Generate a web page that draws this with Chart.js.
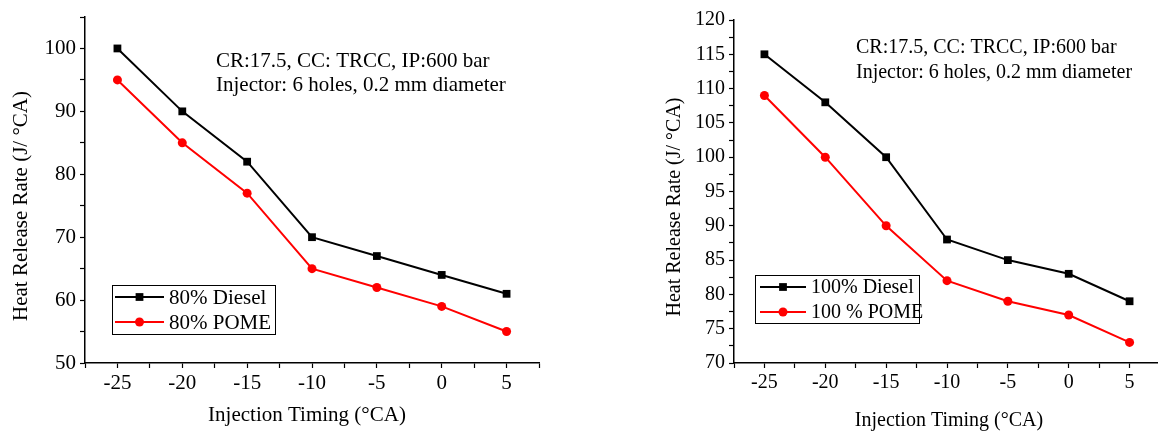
<!DOCTYPE html>
<html><head><meta charset="utf-8">
<script src="https://cdn.jsdelivr.net/npm/chart.js@4.4.1/dist/chart.umd.min.js"></script>
<style>
html,body{margin:0;padding:0;background:#fff;overflow:hidden;width:1158px;height:432px;position:relative;}
#p1{position:absolute;left:0;top:0;width:580px;height:432px;}
#p2{position:absolute;left:580px;top:0;width:600px;height:432px;}
</style></head><body>
<div id="p1"><canvas id="c1" width="580" height="432"></canvas></div>
<div id="p2"><canvas id="c2" width="600" height="432"></canvas></div>
<script>
const timings = [-25, -20, -15, -10, -5, 0, 5];
const diesel80 = [100, 90, 82, 70, 67, 64, 61];
const pome80 = [95, 85, 77, 65, 62, 59, 55];
const diesel100 = [115, 108, 100, 88, 85, 83, 79];
const pome100 = [109, 100, 90, 82, 79, 77, 73];
const labels80 = ['80% Diesel', '80% POME'];
const labels100 = ['100% Diesel', '100 % POME'];
const noteLines = ['CR:17.5, CC: TRCC, IP:600 bar', 'Injector: 6 holes, 0.2 mm diameter'];
const xTitle = 'Injection Timing (°CA)';
const yTitle = 'Heat Release Rate (J/ °CA)';
const xRange = [-27.5, 7.5];
const yRange80 = [50, 105];
const yRange100 = [70, 120];

const FONT = '"Liberation Serif", "Times New Roman", serif';

function pts(xs, ys) { return xs.map((x, i) => ({x: x, y: ys[i]})); }

function drawMarker(ctx, style, x, y, r, color) {
  ctx.save();
  ctx.fillStyle = color;
  ctx.beginPath();
  if (style === 'rect') {
    const s = r * Math.SQRT1_2;
    ctx.rect(x - s, y - s, 2 * s, 2 * s);
  } else {
    ctx.arc(x, y, r, 0, Math.PI * 2);
  }
  ctx.fill();
  ctx.restore();
}

function makeChart(id, cfg) {
  const textPlugin = {
    id: 'texts' + id,
    afterDraw(chart) {
      const ctx = chart.ctx;
      ctx.save();
      ctx.fillStyle = '#000';
      ctx.font = cfg.fs + 'px ' + FONT;
      // annotation
      ctx.textAlign = 'left';
      ctx.textBaseline = 'middle';
      cfg.note.forEach((t, i) => ctx.fillText(t, cfg.noteX, cfg.noteY[i]));
      // x title
      ctx.textAlign = 'center';
      ctx.fillText(xTitle, cfg.xtX, cfg.xtY);
      // y title
      ctx.save();
      ctx.translate(cfg.ytX, cfg.ytY);
      ctx.rotate(-Math.PI / 2);
      ctx.fillText(yTitle, 0, 0);
      ctx.restore();
      // legend
      const L = cfg.legend;
      ctx.strokeStyle = '#000';
      ctx.lineWidth = 1;
      ctx.strokeRect(L.x + 0.5, L.y + 0.5, L.w, L.h);
      chart.data.datasets.forEach((ds, i) => {
        const y = L.rows[i];
        ctx.strokeStyle = ds.borderColor;
        ctx.lineWidth = ds.borderWidth;
        ctx.beginPath();
        ctx.moveTo(L.x0, y);
        ctx.lineTo(L.x1, y);
        ctx.stroke();
        drawMarker(ctx, ds.pointStyle, (L.x0 + L.x1) / 2, y, ds.pointRadius, ds.pointBackgroundColor);
        ctx.fillStyle = '#000';
        ctx.textAlign = 'left';
        ctx.fillText(ds.label, L.tx, y + 1);
      });
      ctx.restore();
    }
  };

  const axisCommon = {
    border: {display: true, color: '#000', width: 1.5},
    grid: {drawOnChartArea: false, drawTicks: true, tickLength: 5, color: '#000', tickColor: '#000', tickWidth: 1.2},
  };

  return new Chart(document.getElementById(id), {
    type: 'line',
    data: {
      datasets: [
        {label: cfg.labels[0], data: pts(timings, cfg.d1), borderColor: '#000000', backgroundColor: '#000000',
         pointBackgroundColor: '#000000', pointBorderColor: '#000000', pointStyle: 'rect', pointRadius: 5.5,
         pointBorderWidth: 0, borderWidth: 2, tension: 0},
        {label: cfg.labels[1], data: pts(timings, cfg.d2), borderColor: '#ff0000', backgroundColor: '#ff0000',
         pointBackgroundColor: '#ff0000', pointBorderColor: '#ff0000', pointStyle: 'circle', pointRadius: 4.5,
         pointBorderWidth: 0, borderWidth: 2, tension: 0}
      ]
    },
    options: {
      responsive: false,
      animation: false,
      layout: {padding: {left: 0, top: cfg.padTop, right: cfg.padRight, bottom: 0}},
      plugins: {legend: {display: false}, tooltip: {enabled: false}, title: {display: false}},
      scales: {
        x: Object.assign({}, axisCommon, {
          type: 'linear', position: 'bottom', min: xRange[0], max: xRange[1],
          afterFit(s) { s.height = cfg.xH; },
          ticks: {stepSize: 2.5, autoSkip: false, maxRotation: 0, color: '#000', padding: 3,
                  font: {family: FONT, size: cfg.fs},
                  callback: v => (Math.abs(v % 5) < 1e-6 ? String(v) : '')}
        }),
        y: Object.assign({}, axisCommon, {
          type: 'linear', position: 'left', min: cfg.yr[0], max: cfg.yr[1],
          afterFit(s) { s.width = cfg.yW; },
          ticks: {stepSize: cfg.yStep, autoSkip: false, color: '#000', padding: 4,
                  font: {family: FONT, size: cfg.fs},
                  callback: v => (Math.abs(v % cfg.yMajor) < 1e-6 ? String(v) : '')}
        })
      }
    },
    plugins: [textPlugin]
  });
}

makeChart('c1', {
  d1: diesel80, d2: pome80, labels: labels80, yr: yRange80, yStep: 5, yMajor: 10,
  yW: 85, xH: 69, padTop: 17, padRight: 41, fs: 21,
  note: noteLines, noteX: 216, noteY: [61, 85],
  xtX: 307, xtY: 415, ytX: 21, ytY: 206,
  legend: {x: 112, y: 285, w: 163, h: 49, rows: [297, 322], x0: 115, x1: 164, tx: 169}
});

makeChart('c2', {
  d1: diesel100, d2: pome100, labels: labels100, yr: yRange100, yStep: 2.5, yMajor: 5,
  yW: 154, xH: 69, padTop: 20, padRight: 20, fs: 20,
  note: noteLines, noteX: 276, noteY: [48, 73],
  xtX: 369, xtY: 421, ytX: 95, ytY: 207,
  legend: {x: 175, y: 275, w: 164, h: 48, rows: [287, 312], x0: 180, x1: 226, tx: 231}
});
</script>
</body></html>
